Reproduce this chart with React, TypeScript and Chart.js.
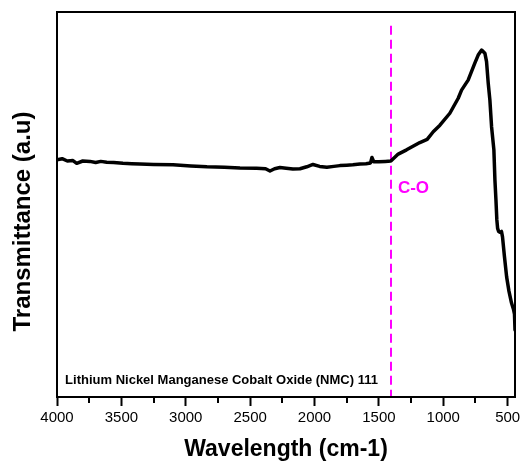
import React, { useEffect, useRef } from "react";
import { Chart, registerables } from "chart.js";

Chart.register(...registerables);

const wavenumbers = [
  4000, 3960, 3920, 3876, 3847, 3800, 3744, 3700, 3660, 3614, 3560, 3488, 3420, 3356, 3250, 3099,
  2960, 2835, 2700, 2579, 2450, 2380, 2346, 2310, 2269, 2220, 2168, 2113, 2060, 2012, 1960, 1904,
  1850, 1803, 1750, 1702, 1647, 1600, 1565, 1554, 1540, 1500, 1450, 1407, 1350, 1285, 1182, 1125,
  1078, 1026, 949, 884, 858, 807, 755, 729, 702, 677, 664, 651, 638, 625, 607, 599, 591, 584, 578,
  570, 560, 548, 540, 525, 508, 490, 470, 455, 447, 443,
];
const transmittance = [
  61.6, 61.9, 61.3, 61.4, 60.7, 61.3, 61.2, 60.9, 61.2, 61.0, 60.9, 60.7, 60.6, 60.5, 60.4, 60.3,
  60.0, 59.8, 59.7, 59.5, 59.4, 59.3, 58.7, 59.3, 59.6, 59.4, 59.2, 59.3, 59.8, 60.4, 59.9, 59.7,
  59.9, 60.1, 60.2, 60.3, 60.5, 60.6, 60.8, 62.2, 61.1, 61.1, 61.2, 61.3, 63.1, 64.2, 66.1, 66.9,
  68.9, 70.6, 73.7, 77.6, 79.7, 82.3, 86.7, 88.8, 90.1, 89.3, 87.1, 81.5, 77.1, 70.2, 64.2, 56.4,
  51.2, 46.0, 43.8, 43.0, 42.8, 43.0, 41.6, 36.5, 31.2, 27.5, 24.4, 22.8, 21.5, 17.4,
];
const majorTicks = [4000, 3500, 3000, 2500, 2000, 1500, 1000, 500];
const minorTicks = [3750, 3250, 2750, 2250, 1750, 1250, 750];
const X_MIN = 443;
const X_MAX = 4000;
const Y_MIN = 0;
const Y_MAX = 100;
const CO_WAVENUMBER = 1407;
const CO_LINE_TOP = 96.4;
const CO_LABEL = "C-O";
const CO_LABEL_Y = 54.3;
const SAMPLE_LABEL = "Lithium Nickel Manganese Cobalt Oxide (NMC) 111";
const SAMPLE_LABEL_X = 3937;
const SAMPLE_LABEL_Y = 4.3;
const X_TITLE = "Wavelength (cm-1)";
const Y_TITLE = "Transmittance (a.u)";

const FONT = "'Liberation Sans', Arial, Helvetica, sans-serif";
const MAGENTA = "#ff00ff";

const decorPlugin = {
  id: "decor",
  beforeDatasetsDraw(chart: any) {
    const { ctx, scales } = chart;
    const x = scales.x;
    const y = scales.y;
    const px = Math.round(x.getPixelForValue(CO_WAVENUMBER));
    ctx.save();
    ctx.strokeStyle = MAGENTA;
    ctx.lineWidth = 2;
    ctx.setLineDash([9, 5]);
    ctx.beginPath();
    ctx.moveTo(px, y.getPixelForValue(CO_LINE_TOP));
    ctx.lineTo(px, y.getPixelForValue(Y_MIN));
    ctx.stroke();
    ctx.restore();
  },
  afterDraw(chart: any) {
    const { ctx, chartArea, scales } = chart;
    const x = scales.x;
    const y = scales.y;
    ctx.save();
    ctx.strokeStyle = "#000";
    ctx.lineWidth = 2;
    ctx.strokeRect(chartArea.left, chartArea.top, chartArea.right - chartArea.left, chartArea.bottom - chartArea.top);
    ctx.beginPath();
    for (const t of minorTicks) {
      const p = Math.round(x.getPixelForValue(t));
      ctx.moveTo(p, chartArea.bottom);
      ctx.lineTo(p, chartArea.bottom + 6);
    }
    ctx.stroke();
    ctx.fillStyle = MAGENTA;
    ctx.font = `bold 17px ${FONT}`;
    ctx.textAlign = "left";
    ctx.textBaseline = "middle";
    ctx.fillText(CO_LABEL, x.getPixelForValue(CO_WAVENUMBER) + 7, y.getPixelForValue(CO_LABEL_Y));
    ctx.fillStyle = "#000";
    ctx.font = `bold 13px ${FONT}`;
    ctx.fillText(SAMPLE_LABEL, x.getPixelForValue(SAMPLE_LABEL_X), y.getPixelForValue(SAMPLE_LABEL_Y));
    ctx.translate(23, (chartArea.top + chartArea.bottom) / 2 + 17);
    ctx.rotate(-Math.PI / 2);
    ctx.textAlign = "center";
    ctx.font = `bold 24px ${FONT}`;
    ctx.fillText(Y_TITLE, 0, 0);
    ctx.restore();
  },
};

export default function App() {
  const ref = useRef<HTMLCanvasElement>(null);
  useEffect(() => {
    if (!ref.current) return;
    const chart = new Chart(ref.current, {
      type: "line",
      data: {
        datasets: [
          {
            data: wavenumbers.map((w, i) => ({ x: w, y: transmittance[i] })),
            borderColor: "#000",
            borderWidth: 3.5,
            borderJoinStyle: "round",
            borderCapStyle: "round",
            pointRadius: 0,
            tension: 0,
            fill: false,
          },
        ],
      },
      options: {
        animation: false,
        responsive: false,
        layout: { padding: { left: 0, top: 12, right: 9, bottom: 0 } },
        plugins: { legend: { display: false }, tooltip: { enabled: false } },
        scales: {
          x: {
            type: "linear",
            reverse: true,
            min: X_MIN,
            max: X_MAX,
            afterBuildTicks: (s: any) => {
              s.ticks = majorTicks.map((v) => ({ value: v }));
            },
            afterFit: (s: any) => {
              s.height = 64;
            },
            grid: {
              display: true,
              drawOnChartArea: false,
              drawTicks: true,
              tickLength: 9,
              tickWidth: 2,
              tickColor: "#000",
            },
            border: { display: true, color: "#000", width: 2 },
            ticks: {
              color: "#000",
              padding: 3,
              maxRotation: 0,
              autoSkip: false,
              font: { family: FONT, size: 15 },
              callback: (v: any) => String(v),
            },
            title: {
              display: true,
              text: X_TITLE,
              color: "#000",
              font: { family: FONT, size: 23, weight: "bold", lineHeight: 1 },
              padding: 0,
            },
          },
          y: {
            type: "linear",
            min: Y_MIN,
            max: Y_MAX,
            afterFit: (s: any) => {
              s.width = 57;
            },
            grid: { display: false },
            border: { display: false },
            ticks: { display: false },
          },
        },
      },
      plugins: [decorPlugin],
    });
    return () => chart.destroy();
  }, []);
  return (
    <div style={{ position: "absolute", left: 0, top: 0, width: 524, height: 461, background: "#fff" }}>
      <canvas ref={ref} width={524} height={461} />
    </div>
  );
}
